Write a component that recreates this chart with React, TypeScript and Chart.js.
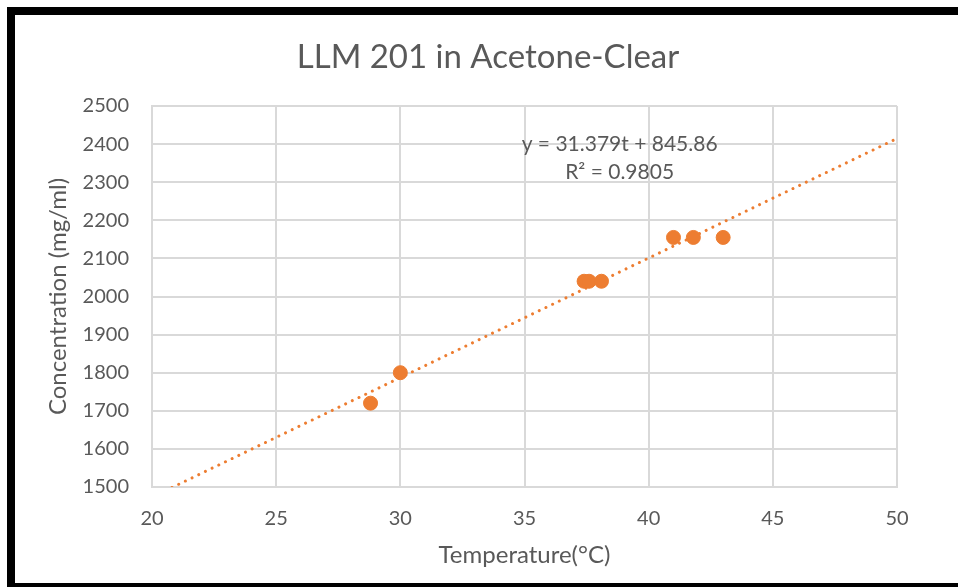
import React, { useEffect, useRef } from "react";
import { Chart, registerables } from "chart.js";

Chart.register(...registerables);

const temperatures = [28.8, 30.0, 37.4, 37.6, 38.1, 41.0, 41.8, 43.0];
const concentrations = [1720, 1800, 2040, 2040, 2040, 2155, 2155, 2155];
const slope = 31.379;
const intercept = 845.86;
const trendX = [20, 50];
const chartTitle = "LLM 201 in Acetone-Clear";
const xTitle = "Temperature(°C)";
const yTitle = "Concentration (mg/ml)";
const equationLines = ["y = 31.379t + 845.86", "R² = 0.9805"];

const FONT = "Lato, 'Open Sans', sans-serif";
const GREY = "#595959";
const ORANGE = "#ED7D31";

export default function App() {
  const ref = useRef<HTMLCanvasElement | null>(null);
  useEffect(() => {
    document.body.style.margin = "0";
    document.documentElement.style.overflow = "hidden";
    const canvas = ref.current;
    if (!canvas) return;
    const textPlugin = {
      id: "texts",
      afterDatasetsDraw(chart: any) {
        const { ctx, scales } = chart;
        ctx.save();
        ctx.fillStyle = GREY;
        ctx.textAlign = "center";
        ctx.textBaseline = "middle";
        ctx.font = `33px ${FONT}`;
        ctx.fillText(chartTitle, 488, 57);
        const x = scales.x.getPixelForValue(38.83);
        const y1 = scales.y.getPixelForValue(2400);
        const y2 = scales.y.getPixelForValue(2325);
        ctx.font = `21px ${FONT}`;
        ctx.fillText(equationLines[0], x, y1);
        ctx.fillText(equationLines[1], x, y2);
        ctx.restore();
      },
    };
    const chart = new Chart(canvas, {
      type: "scatter",
      data: {
        datasets: [
          {
            label: "trend",
            type: "line",
            data: trendX.map((t) => ({ x: t, y: slope * t + intercept })),
            borderColor: ORANGE,
            borderWidth: 3,
            borderDash: [0.01, 7.4],
            borderCapStyle: "round",
            pointRadius: 0,
            fill: false,
            order: 2,
          } as any,
          {
            label: "data",
            data: temperatures.map((t, i) => ({ x: t, y: concentrations[i] })),
            backgroundColor: ORANGE,
            borderColor: ORANGE,
            pointRadius: 7,
            pointHoverRadius: 7,
            order: 1,
          },
        ],
      },
      options: {
        animation: false,
        responsive: false,
        layout: { padding: { top: 106, left: 0, right: 61, bottom: 0 } },
        plugins: {
          legend: { display: false },
          tooltip: { enabled: false },
          title: { display: false },
        },
        scales: {
          x: {
            type: "linear",
            min: 20,
            max: 50,
            ticks: {
              stepSize: 5,
              color: GREY,
              font: { family: FONT, size: 20 },
              padding: 20,
              callback: (v: any) => String(v),
            },
            grid: { color: "#D9D9D9", lineWidth: 2, drawTicks: false },
            border: { color: "#D9D9D9", width: 2 },
            title: {
              display: true,
              text: xTitle,
              color: GREY,
              font: { family: FONT, size: 24 },
              padding: { top: 0, bottom: 17 },
            },
            afterFit(scale: any) {
              scale.height = 100;
            },
          },
          y: {
            type: "linear",
            min: 1500,
            max: 2500,
            ticks: {
              stepSize: 100,
              color: GREY,
              font: { family: FONT, size: 20 },
              padding: 23,
              callback: (v: any) => String(v),
            },
            grid: { color: "#D9D9D9", lineWidth: 2, drawTicks: false },
            border: { color: "#D9D9D9", width: 2 },
            title: {
              display: true,
              text: yTitle,
              color: GREY,
              font: { family: FONT, size: 24 },
              padding: { top: 44, bottom: 0 },
            },
            afterFit(scale: any) {
              scale.width = 152;
            },
          },
        },
      },
      plugins: [textPlugin],
    });
    return () => chart.destroy();
  }, []);
  return (
    <div style={{ position: "relative", width: 958, height: 587, overflow: "hidden", background: "#fff" }}>
      <canvas ref={ref} width={958} height={587} style={{ position: "absolute", left: 0, top: 0 }} />
      <div
        style={{
          position: "absolute",
          left: 7,
          top: 7,
          width: 1000,
          height: 584,
          border: "8px solid #000",
          boxSizing: "border-box",
          pointerEvents: "none",
        }}
      />
    </div>
  );
}
